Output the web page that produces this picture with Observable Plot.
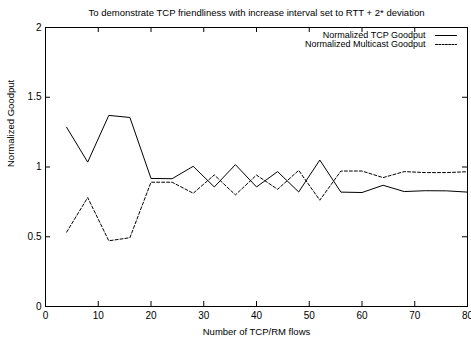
<!DOCTYPE html>
<html>
<head>
<meta charset="utf-8">
<script src="https://cdn.jsdelivr.net/npm/d3@7"></script>
<script src="https://cdn.jsdelivr.net/npm/@observablehq/plot@0.6"></script>
<style>
  html, body { margin: 0; padding: 0; background: white; }
</style>
</head>
<body>
<div id="chart"></div>
<script>
const flows = [4, 8, 12, 16, 20, 24, 28, 32, 36, 40, 44, 48, 52, 56, 60, 64, 68, 72, 76, 80];
const tcpGoodput = [1.285, 1.035, 1.37, 1.355, 0.918, 0.916, 1.005, 0.857, 1.017, 0.857, 0.967, 0.821, 1.05, 0.82, 0.817, 0.869, 0.824, 0.83, 0.829, 0.82];
const multicastGoodput = [0.533, 0.781, 0.471, 0.493, 0.891, 0.891, 0.812, 0.943, 0.8, 0.942, 0.84, 0.976, 0.762, 0.971, 0.971, 0.924, 0.967, 0.96, 0.96, 0.966];
const seriesNames = ["Normalized TCP Goodput", "Normalized Multicast Goodput"];
const xTicks = [0, 10, 20, 30, 40, 50, 60, 70, 80];
const yTicks = [0, 0.5, 1, 1.5, 2];
const yTickLabels = ["0", "0.5", "1", "1.5", "2"];
const titleText = "To demonstrate TCP friendliness with increase interval set to RTT + 2* deviation";
const xLabel = "Number of TCP/RM flows";
const yLabel = "Normalized Goodput";

const tcpRows = flows.map((f, i) => ({flows: f, value: tcpGoodput[i]}));
const mcRows = flows.map((f, i) => ({flows: f, value: multicastGoodput[i]}));

const W = 471, H = 341;
const mL = 45, mR = 4, mT = 27, mB = 35;
const fw = W - mL - mR, fh = H - mT - mB;
const tick = 5;
const segShape = {draw(ctx, l) { ctx.moveTo(0, 0); ctx.lineTo(0, -l); }};

const chart = Plot.plot({
  width: W,
  height: H,
  marginLeft: mL,
  marginRight: mR,
  marginTop: mT,
  marginBottom: mB,
  style: {fontFamily: "'Liberation Sans', Arial, Helvetica, sans-serif", fontSize: "10px", background: "white", color: "black"},
  x: {domain: [0, 80], label: null},
  y: {domain: [0, 2], label: null},
  marks: [
    // inward ticks on all four sides
    Plot.tickX(xTicks, {x: d => d, insetTop: fh - tick, stroke: "black"}),
    Plot.tickX(xTicks, {x: d => d, insetBottom: fh - tick, stroke: "black"}),
    Plot.tickY(yTicks, {y: d => d, insetRight: fw - tick, stroke: "black"}),
    Plot.tickY(yTicks, {y: d => d, insetLeft: fw - tick, stroke: "black"}),
    Plot.axisX(xTicks, {anchor: "bottom", tickSize: 0, tickPadding: 5, fontSize: 10}),
    Plot.axisY(yTicks, {anchor: "left", tickSize: 0, tickPadding: 4, fontSize: 10, tickFormat: (d) => yTickLabels[yTicks.indexOf(d)]}),
    Plot.line(tcpRows, {x: "flows", y: "value", stroke: "black", strokeWidth: 1}),
    Plot.line(mcRows, {x: "flows", y: "value", stroke: "black", strokeWidth: 1, strokeDasharray: "3,2"}),
    Plot.frame({stroke: "black", strokeWidth: 1}),
    // legend
    Plot.text([seriesNames[0]], {text: d => d, frameAnchor: "top-right", textAnchor: "end", lineAnchor: "middle", dx: -42, dy: 8, fontSize: 9}),
    Plot.text([seriesNames[1]], {text: d => d, frameAnchor: "top-right", textAnchor: "end", lineAnchor: "middle", dx: -42, dy: 17, fontSize: 9}),
    Plot.vector([seriesNames[0]], {frameAnchor: "top-right", dx: -32, dy: 8, length: 21, rotate: 90, anchor: "start", shape: segShape, stroke: "black", strokeWidth: 1}),
    Plot.vector([seriesNames[1]], {frameAnchor: "top-right", dx: -32, dy: 17, length: 21, rotate: 90, anchor: "start", shape: segShape, stroke: "black", strokeWidth: 1, strokeDasharray: "2,1.3"}),
    // title and axis labels
    Plot.text([titleText], {text: d => d, frameAnchor: "top", lineAnchor: "middle", dy: -15, fontSize: 9.5}),
    Plot.text([xLabel], {text: d => d, frameAnchor: "bottom", lineAnchor: "middle", dy: 25, fontSize: 9.5}),
    Plot.text([yLabel], {text: d => d, frameAnchor: "left", lineAnchor: "middle", dx: -35, rotate: -90, fontSize: 9.5})
  ]
});
document.getElementById("chart").appendChild(chart);
</script>
</body>
</html>
